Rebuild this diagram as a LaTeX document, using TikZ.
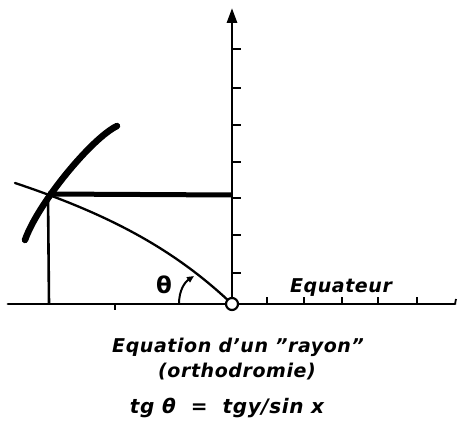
\documentclass[tikz,border=0pt]{standalone}
\usepackage{fontspec}
\setmainfont{DejaVu Sans}
\usetikzlibrary{arrows.meta}
\begin{document}
\begin{tikzpicture}[x=1pt,y=-1pt,
  axis/.style={line width=2.8pt,line cap=round},
  tick/.style={line width=2pt},
  thin/.style={line width=2.3pt,line cap=round},
  heavy/.style={line width=5pt},
  arcthick/.style={line width=6.5pt,line cap=round},
  lbl/.style={font=\fontsize{19}{22}\selectfont\bfseries\itshape\addfontfeature{LetterSpace=3}, inner sep=0pt}]
\useasboundingbox (0,0) rectangle (459,428);
% coordinates
\coordinate (O) at (232,304);
\coordinate (Ytop) at (232,8);
\coordinate (Xl) at (8,304);
\coordinate (Xr) at (455,304);
\coordinate (P) at (48,194);
\coordinate (H) at (232,195);
\coordinate (F) at (49,304);
\coordinate (A1) at (25,240);
\coordinate (A2) at (117,126);
\coordinate (C0) at (15,183);
% axes
\draw[axis] (Xl) -- (Xr);
\draw[axis,-{Triangle[length=15pt,width=10pt]}] (O) -- (Ytop);
\draw[line width=1.8pt] (Xr) -- ++(1,-5);
% ticks on vertical axis
\foreach \y in {49,88,125,162,198,235,273}
  \draw[tick] (232,\y) -- (241,\y);
% ticks on horizontal axis
\foreach \x in {267,304,342,378,417}
  \draw[tick] (\x,304) -- (\x,297);
\draw[tick] (115,304) -- (115,310);
% heavy horizontal and vertical lines
\draw[heavy] (P) -- (H);
\draw[line width=2.6pt] (F) -- (P);
% thick arc
\draw[arcthick] (A1) .. controls (38,203) and (92,138) .. (A2);
% thin curve
\draw[thin] (C0) .. controls (105,213) and (172,247) .. (O);
% origin circle
\node[circle,draw,line width=2.2pt,fill=white,minimum size=12pt,inner sep=0pt] (Oc) at (O) {};
% angle arc
\draw[line width=2pt,-{Triangle[length=7pt,width=6pt]}] (179,304) .. controls (179,290) and (185,282) .. (194,276);
\node[font=\fontsize{23}{23}\selectfont\bfseries,inner sep=0pt] (th) at (164,285) {θ};
% labels
\node[lbl] (eq) at (341,288) {Equateur};
\node[lbl] (t1) at (238,347) {Equation d'un "rayon"};
\node[lbl] (t2) at (237,372) {(orthodromie)};
\node[lbl,font=\fontsize{20}{22}\selectfont\bfseries\itshape\addfontfeature{LetterSpace=3}] (t3) at (227,408) {tg θ ~=~ tgy/sin x};
\end{tikzpicture}
\end{document}
